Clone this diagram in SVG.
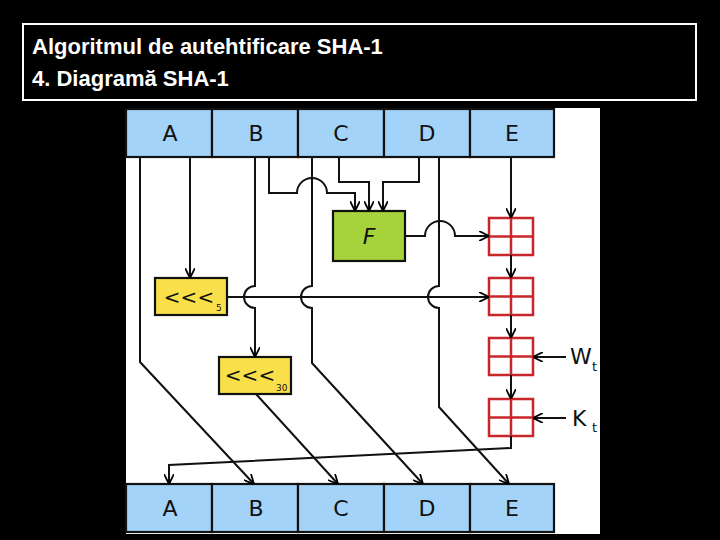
<svg xmlns="http://www.w3.org/2000/svg" width="720" height="540" viewBox="0 0 720 540">
<defs>
<marker id="ar" viewBox="0 0 10 10" refX="10" refY="5" markerWidth="10" markerHeight="10" markerUnits="userSpaceOnUse" orient="auto"><path d="M0,0 L10,5 L0,10" fill="none" stroke="#000" stroke-width="1.8"/></marker>
<style>
.reg{fill:#a3d3f9;stroke:#111;stroke-width:2.2}
.lbl{font-family:"DejaVu Sans",sans-serif;font-size:22px;fill:#111;text-anchor:middle}
.add{fill:none;stroke:#c8262a;stroke-width:2.5}
.ln{fill:none;stroke:#111;stroke-width:2}
.rot{fill:#f9e04b;stroke:#111;stroke-width:2.2}
</style>
</defs>
<rect width="720" height="540" fill="#000"/>
<rect x="23" y="24" width="673" height="76" fill="#000" stroke="#fff" stroke-width="2"/>
<text x="32" y="54" font-family="Liberation Sans,Arial,sans-serif" font-size="22" font-weight="bold" fill="#fff">Algoritmul de autehtificare SHA-1</text>
<text x="32" y="86" font-family="Liberation Sans,Arial,sans-serif" font-size="22" font-weight="bold" fill="#fff">4. Diagramă SHA-1</text>
<rect x="126" y="108" width="474" height="426" fill="#fff"/>
<g id="top">
<rect class="reg" x="126" y="109" width="86" height="48"/><rect class="reg" x="212" y="109" width="86" height="48"/><rect class="reg" x="298" y="109" width="86" height="48"/><rect class="reg" x="384" y="109" width="86" height="48"/><rect class="reg" x="470" y="109" width="84" height="48"/>
<text class="lbl" x="170" y="141">A</text><text class="lbl" x="256" y="141">B</text><text class="lbl" x="341" y="141">C</text><text class="lbl" x="427" y="141">D</text><text class="lbl" x="512" y="141">E</text>
</g>
<g id="bottom">
<rect class="reg" x="126" y="484" width="86" height="48"/><rect class="reg" x="212" y="484" width="86" height="48"/><rect class="reg" x="298" y="484" width="86" height="48"/><rect class="reg" x="384" y="484" width="86" height="48"/><rect class="reg" x="470" y="484" width="84" height="48"/>
<text class="lbl" x="170" y="516">A</text><text class="lbl" x="256" y="516">B</text><text class="lbl" x="341" y="516">C</text><text class="lbl" x="427" y="516">D</text><text class="lbl" x="512" y="516">E</text>
</g>
<g id="F"><rect x="333" y="211" width="72" height="50" fill="#a6d33c" stroke="#111" stroke-width="2.2"/><text x="369" y="244" font-family="DejaVu Sans,sans-serif" font-size="22" font-style="italic" text-anchor="middle" fill="#111">F</text></g>
<g id="rot5"><rect class="rot" x="155" y="278" width="72" height="37"/><text x="189" y="304" font-family="DejaVu Sans,sans-serif" font-size="20" text-anchor="middle" fill="#111">&lt;&lt;&lt;</text><text x="216" y="311" font-family="DejaVu Sans,sans-serif" font-size="9" fill="#111">5</text></g>
<g id="rot30"><rect class="rot" x="219" y="357" width="72" height="37"/><text x="250" y="382" font-family="DejaVu Sans,sans-serif" font-size="20" text-anchor="middle" fill="#111">&lt;&lt;&lt;</text><text x="276" y="391" font-family="DejaVu Sans,sans-serif" font-size="9" fill="#111">30</text></g>
<g id="adders">
<g class="add"><rect x="489" y="218" width="44" height="37"/><path d="M511,218V255M489,236.5H533"/></g>
<g class="add"><rect x="489" y="278" width="44" height="37"/><path d="M511,278V315M489,296.5H533"/></g>
<g class="add"><rect x="489" y="338" width="44" height="37"/><path d="M511,338V375M489,356.5H533"/></g>
<g class="add"><rect x="489" y="399" width="44" height="37"/><path d="M511,399V436M489,417.5H533"/></g>
</g>
<g id="inputs" font-family="DejaVu Sans,sans-serif" fill="#111">
<text x="570" y="364" font-size="22">W</text><text x="592" y="371" font-size="13">t</text>
<text x="572" y="426" font-size="22">K</text><text x="592" y="432" font-size="13">t</text>
</g>
<g id="connectors" class="ln">
<path d="M140,157V362L254,484" marker-end="url(#ar)"/>
<path d="M190,157V278" marker-end="url(#ar)"/>
<path d="M255,157V286A11,11 0 0 0 255,308V357" marker-end="url(#ar)"/>
<path d="M256,394L338,484" marker-end="url(#ar)"/>
<path d="M312,157V286A11,11 0 0 0 312,308V363L423,484" marker-end="url(#ar)"/>
<path d="M439,157V286A11,11 0 0 0 439,308V407L509,484" marker-end="url(#ar)"/>
<path d="M269,157V193H297A15,15 0 0 1 327,193H355V211" marker-end="url(#ar)"/>
<path d="M339,157V182H369V211" marker-end="url(#ar)"/>
<path d="M419,157V182H383V211" marker-end="url(#ar)"/>
<path d="M405,236H425A15,15 0 0 1 455,236H489" marker-end="url(#ar)"/>
<path d="M227,297H489" marker-end="url(#ar)"/>
<path d="M511,157V218" marker-end="url(#ar)"/>
<path d="M511,255V278" marker-end="url(#ar)"/>
<path d="M511,315V338" marker-end="url(#ar)"/>
<path d="M511,375V399" marker-end="url(#ar)"/>
<path d="M566,357H533" marker-end="url(#ar)"/>
<path d="M566,418H533" marker-end="url(#ar)"/>
<path d="M511,436V448L169,465V484" marker-end="url(#ar)"/>
</g>
</svg>
